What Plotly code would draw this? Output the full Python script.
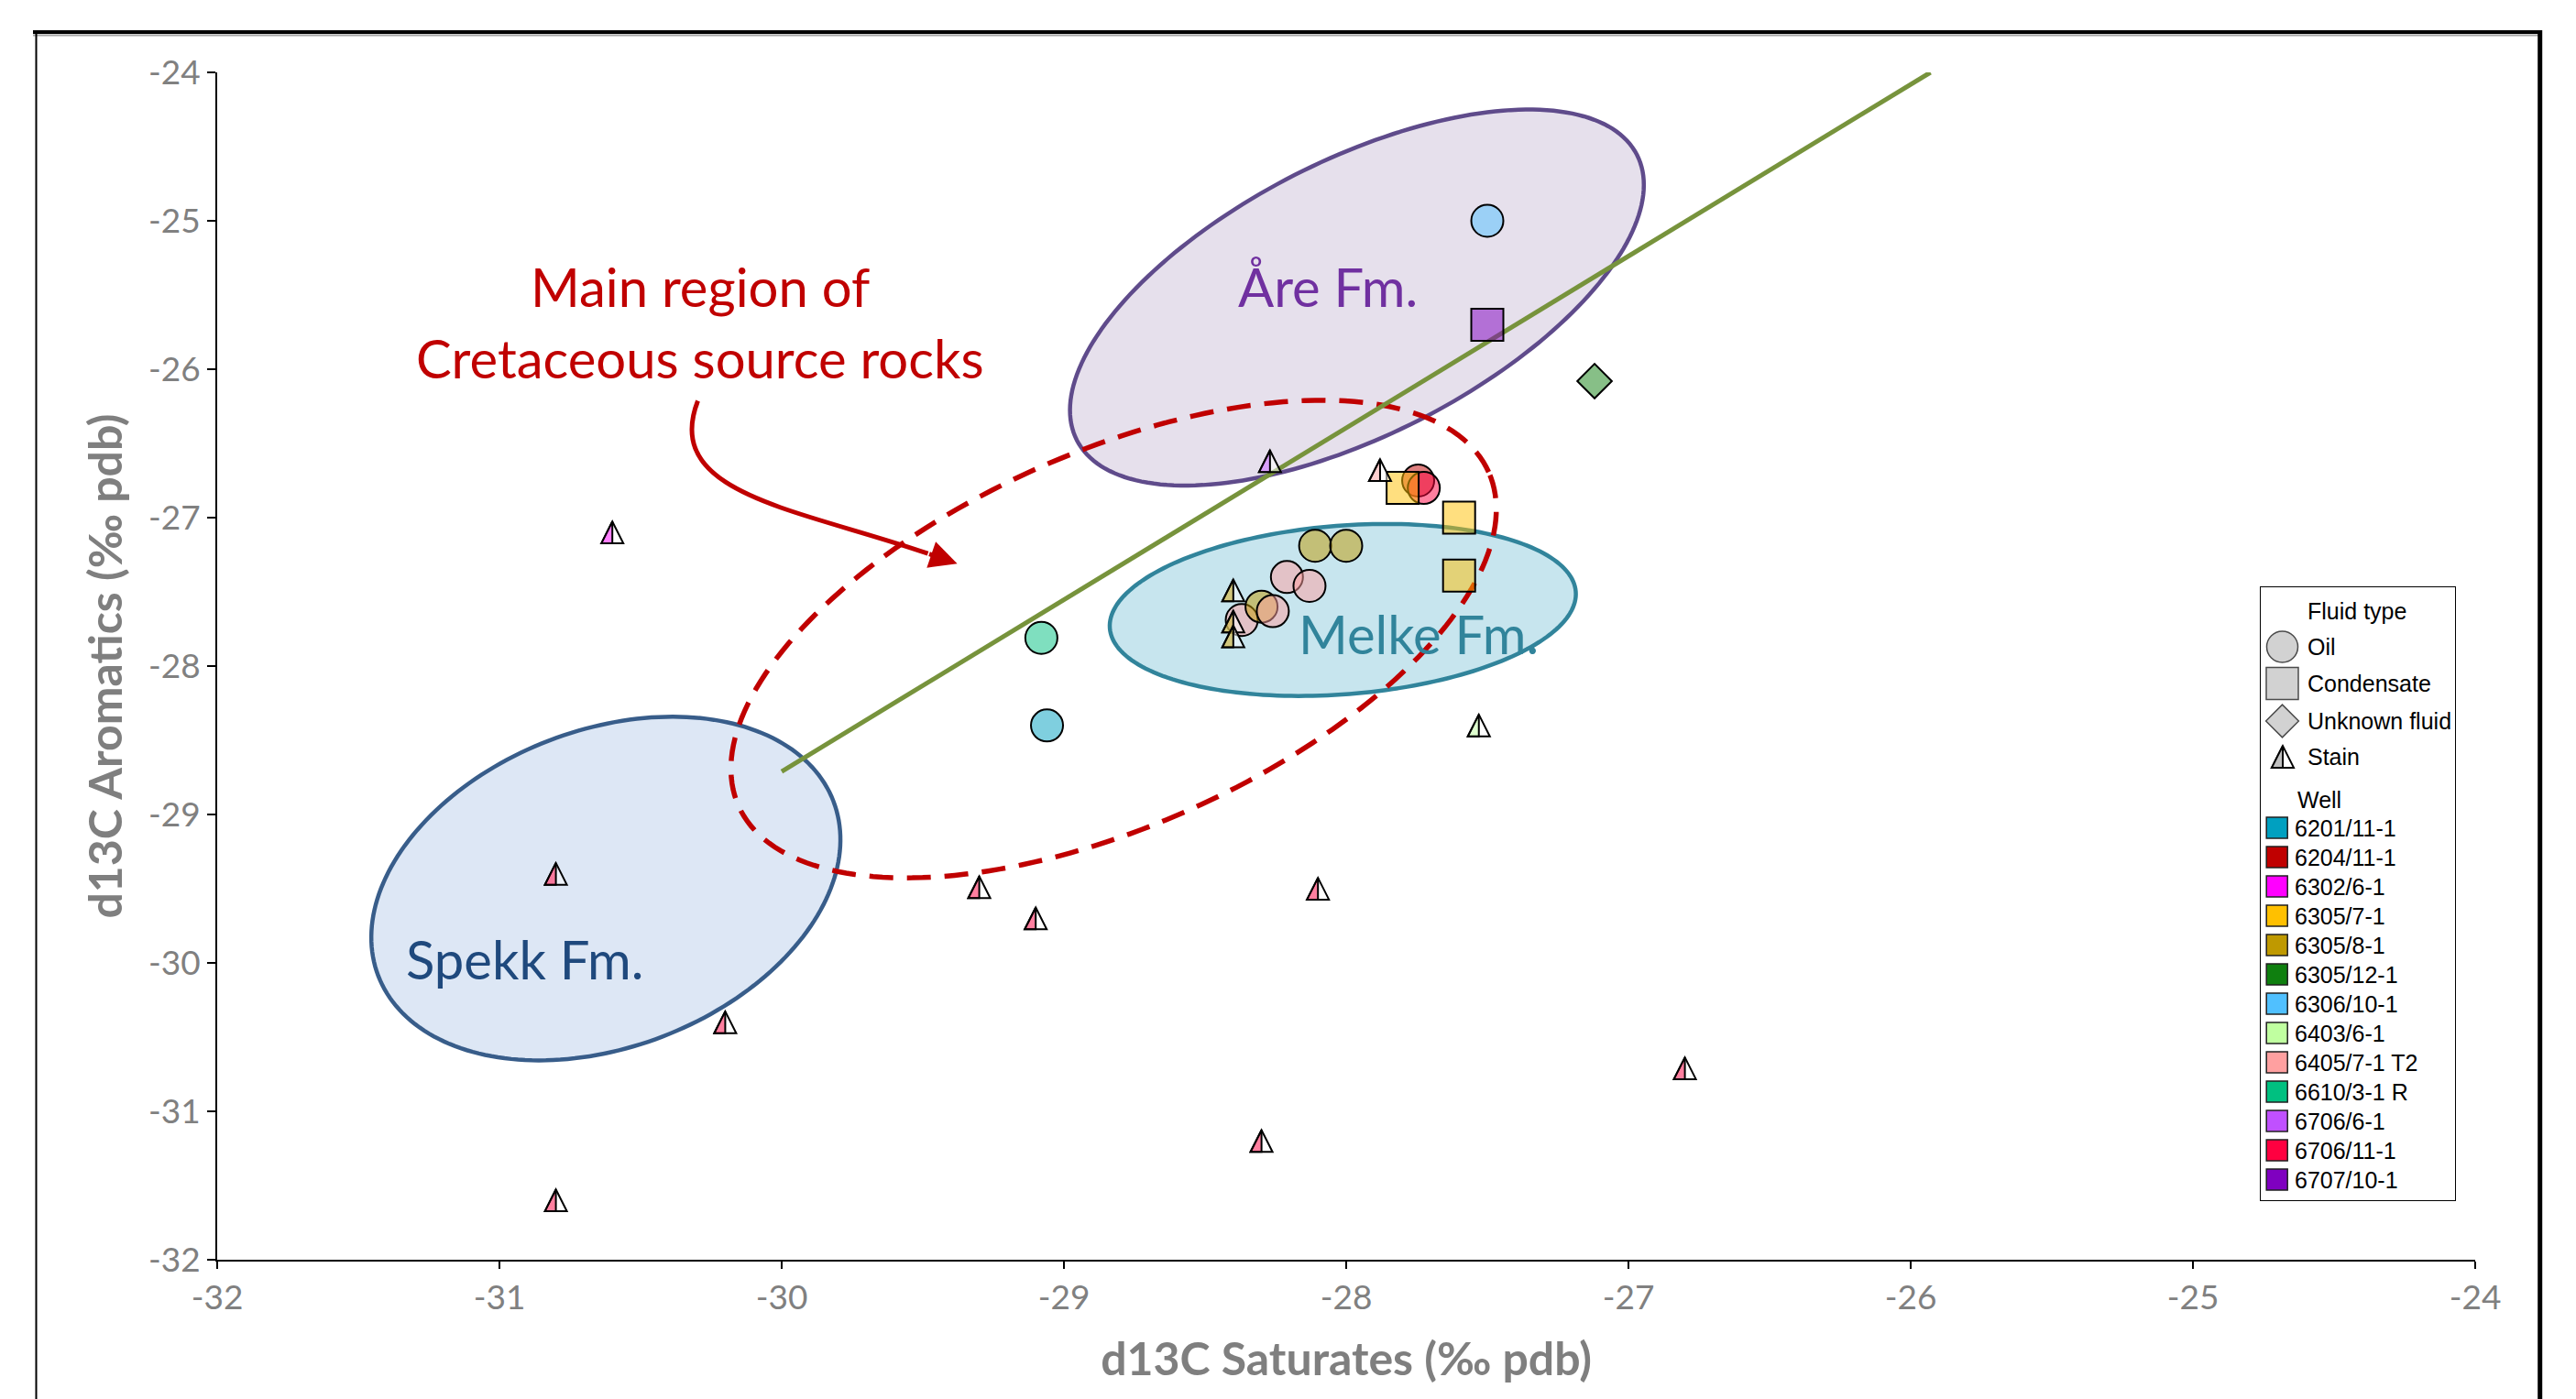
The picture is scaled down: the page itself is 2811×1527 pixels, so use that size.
import numpy as np
import plotly.graph_objects as go

# ---------------- data ----------------
wells = ["6201/11-1", "6204/11-1", "6302/6-1", "6305/7-1", "6305/8-1", "6305/12-1",
         "6306/10-1", "6403/6-1", "6405/7-1 T2", "6610/3-1 R", "6706/6-1", "6706/11-1",
         "6707/10-1"]
well_colors = ["#00A0C0", "#C00000", "#FF00FF", "#FFC000", "#BF9900", "#0F7F0F",
               "#50C0FF", "#C0FFA0", "#FFA0A0", "#00C080", "#C050FF", "#FF0040",
               "#7F00C0"]

oil_x = [-29.06, -29.08, -27.50, -28.11, -28.00, -28.21, -28.13, -28.37, -28.30, -28.26, -27.745, -27.725]
oil_y = [-28.40, -27.81, -25.00, -27.19, -27.19, -27.40, -27.46, -27.69, -27.60, -27.63, -26.75, -26.80]
oil_well = ["6201/11-1", "6610/3-1 R", "6306/10-1", "6305/8-1", "6305/8-1", "6405/7-1 T2",
            "6405/7-1 T2", "6405/7-1 T2", "6305/8-1", "6405/7-1 T2", "6204/11-1", "6706/11-1"]

cond_x = [-27.80, -27.60, -27.60, -27.50]
cond_y = [-26.80, -27.00, -27.39, -25.70]
cond_well = ["6305/7-1", "6305/7-1", "6305/7-1", "6707/10-1"]

unk_x = [-27.12]
unk_y = [-26.08]
unk_well = ["6305/12-1"]

stain_x = [-30.60, -30.80, -29.30, -29.10, -30.20, -30.80, -28.30, -28.10, -26.80,
           -27.53, -28.27, -27.88, -28.40, -28.40, -28.40]
stain_y = [-27.10, -29.40, -29.49, -29.70, -30.40, -31.60, -31.20, -29.50, -30.71,
           -28.40, -26.62, -26.68, -27.49, -27.70, -27.80]
stain_well = ["6302/6-1", "6706/11-1", "6706/11-1", "6706/11-1", "6706/11-1", "6706/11-1",
              "6706/11-1", "6706/11-1", "6706/11-1", "6403/6-1", "6706/6-1", "6405/7-1 T2",
              "6305/8-1", "6305/8-1", "6305/8-1"]

trend_x = [-30.00, -25.93]
trend_y = [-28.71, -24.00]

fluid_types = ["Oil", "Condensate", "Unknown fluid", "Stain"]

x_ticks = [-32, -31, -30, -29, -28, -27, -26, -25, -24]
y_ticks = [-32, -31, -30, -29, -28, -27, -26, -25, -24]

# formation regions: centre (data), semi axes (px), rotation (deg)
regions = {
    "Are":   dict(cx=-27.962, cy=-25.517, a=343, b=150, rot=27, line="#5F4B8B", fill="#E6E0EC", dash="solid", w=4.5),
    "Spekk": dict(cx=-30.623, cy=-29.499, a=266, b=173, rot=21, line="#385D8A", fill="#DDE7F5", dash="solid", w=4.5),
    "Melke": dict(cx=-28.012, cy=-27.622, a=255, b=92, rot=4.5, line="#31849B", fill="#C7E5EE", dash="solid", w=4.5),
    "Cret":  dict(cx=-28.824, cy=-27.818, a=448, b=204, rot=24, line="#C00000", fill="rgba(0,0,0,0)", dash="26px,15px", w=5.5),
}

# ---------------- geometry of the page ----------------
W, H = 2811, 1527
ML, MR, MT, MB = 237, 110, 79, 152
PW, PH = W - ML - MR, H - MT - MB


def paper_x(px):
    return (px - ML) / PW


def paper_y(py):
    return 1 - (py - MT) / PH


def rgba(hexc, a):
    h = hexc.lstrip("#")
    return f"rgba({int(h[0:2],16)},{int(h[2:4],16)},{int(h[4:6],16)},{a})"


cmap = dict(zip(wells, well_colors))
ALPHA = 0.5

fig = go.Figure()

# trend line
fig.add_trace(go.Scatter(x=trend_x, y=trend_y, mode="lines",
                         line=dict(color="#77933C", width=5), hoverinfo="skip"))

# oil
fig.add_trace(go.Scatter(x=oil_x, y=oil_y, mode="markers", name="Oil",
                         marker=dict(symbol="circle", size=35,
                                     color=[rgba(cmap[w], ALPHA) for w in oil_well],
                                     line=dict(color="black", width=2))))
# condensate
fig.add_trace(go.Scatter(x=cond_x, y=cond_y, mode="markers", name="Condensate",
                         marker=dict(symbol="square", size=35,
                                     color=[rgba(cmap[w], ALPHA) for w in cond_well],
                                     line=dict(color="black", width=2))))
# unknown
fig.add_trace(go.Scatter(x=unk_x, y=unk_y, mode="markers", name="Unknown fluid",
                         marker=dict(symbol="diamond", size=29,
                                     color=[rgba(cmap[w], ALPHA) for w in unk_well],
                                     line=dict(color="black", width=2))))

shapes = []


def ellipse_path(a, b, deg, n=200):
    t = np.linspace(0, 2 * np.pi, n, endpoint=False)
    th = np.radians(deg)
    xs = a * np.cos(t) * np.cos(th) - b * np.sin(t) * np.sin(th)
    ys = a * np.cos(t) * np.sin(th) + b * np.sin(t) * np.cos(th)
    return "M" + " L".join(f"{x:.2f},{y:.2f}" for x, y in zip(xs, ys)) + " Z"


for key, r in regions.items():
    shapes.append(dict(type="path", xref="x", yref="y", xsizemode="pixel", ysizemode="pixel",
                       xanchor=r["cx"], yanchor=r["cy"], path=ellipse_path(r["a"], r["b"], r["rot"]),
                       fillcolor=r["fill"], line=dict(color=r["line"], width=r["w"], dash=r["dash"]),
                       layer="below"))

TW, TH = 12, 11.9
tri_full = f"M{-TW},{-TH} L0,{TH} L{TW},{-TH} Z"
tri_left = f"M{-TW},{-TH} L0,{TH} L0,{-TH} Z"


def stain_shapes(x, y, color, xref="x", yref="y"):
    return [
        dict(type="path", xref=xref, yref=yref, xsizemode="pixel", ysizemode="pixel",
             xanchor=x, yanchor=y, path=tri_full, fillcolor="rgba(255,255,255,0.5)",
             line=dict(color="black", width=2), layer="above"),
        dict(type="path", xref=xref, yref=yref, xsizemode="pixel", ysizemode="pixel",
             xanchor=x, yanchor=y, path=tri_left, fillcolor=color,
             line=dict(color="black", width=2), layer="above"),
    ]


for x, y, w in zip(stain_x, stain_y, stain_well):
    shapes += stain_shapes(x, y, rgba(cmap[w], ALPHA))

# curved arrow (annotation)
arrow_p0 = (-30.297, -26.213)
arrow_p1 = (-30.426, -26.844)
arrow_p2 = (-29.943, -26.939)
arrow_p3 = (-29.482, -27.242)
arrow_tip = (-29.378, -27.31)
shapes.append(dict(type="path", xref="x", yref="y",
                   path=f"M{arrow_p0[0]},{arrow_p0[1]} C{arrow_p1[0]},{arrow_p1[1]} "
                        f"{arrow_p2[0]},{arrow_p2[1]} {arrow_p3[0]},{arrow_p3[1]}",
                   line=dict(color="#C00000", width=5), layer="above"))

# outer frame
shapes.append(dict(type="line", xref="paper", yref="paper", x0=paper_x(36), x1=paper_x(2774),
                   y0=paper_y(35), y1=paper_y(35), line=dict(color="black", width=4)))
shapes.append(dict(type="line", xref="paper", yref="paper", x0=paper_x(36), x1=paper_x(2774),
                   y0=paper_y(38.5), y1=paper_y(38.5), line=dict(color="#A6A6A6", width=2)))
shapes.append(dict(type="line", xref="paper", yref="paper", x0=paper_x(39.5), x1=paper_x(39.5),
                   y0=paper_y(33), y1=paper_y(1530), line=dict(color="black", width=2)))
shapes.append(dict(type="line", xref="paper", yref="paper", x0=paper_x(2771.7), x1=paper_x(2771.7),
                   y0=paper_y(33), y1=paper_y(1530), line=dict(color="black", width=5)))

# ---------------- legend (inset axes in page pixels) ----------------
LX0, LX1, LY0, LY1 = 2466, 2680, 640, 1311
shapes.append(dict(type="rect", xref="x2", yref="y2", x0=LX0, x1=LX1, y0=LY0, y1=LY1,
                   line=dict(color="black", width=2), fillcolor="white", layer="below"))

fluid_rows_y = [706, 746, 787, 826]
sym_x = 2490.5
fig.add_trace(go.Scatter(x=[sym_x] * 3, y=fluid_rows_y[:3], xaxis="x2", yaxis="y2", mode="markers",
                         marker=dict(symbol=["circle", "square", "diamond"], size=[34, 35, 27.5],
                                     color="#C0C0C0", line=dict(color="black", width=1.5)),
                         hoverinfo="skip"))
shapes += stain_shapes(2491, fluid_rows_y[3], "#C0C0C0", xref="x2", yref="y2")

well_row0, well_step = 903.5, 32.0
well_rows_y = [well_row0 + i * well_step for i in range(len(wells))]
fig.add_trace(go.Scatter(x=[2484.7] * len(wells), y=well_rows_y, xaxis="x2", yaxis="y2",
                         mode="markers",
                         marker=dict(symbol="square", size=23, color=well_colors,
                                     line=dict(color="#202020", width=1.5)),
                         hoverinfo="skip"))

annotations = []
leg_font = dict(family="Liberation Sans, Arial, sans-serif", size=25, color="black")
annotations.append(dict(x=2516, y=667, xref="x2", yref="y2", text="Fluid type", showarrow=False,
                        xanchor="left", yanchor="middle", font=leg_font))
for name, yy in zip(fluid_types, fluid_rows_y):
    annotations.append(dict(x=2516, y=yy, xref="x2", yref="y2", text=name, showarrow=False,
                            xanchor="left", yanchor="middle", font=leg_font))
annotations.append(dict(x=2505, y=873, xref="x2", yref="y2", text="Well", showarrow=False,
                        xanchor="left", yanchor="middle", font=leg_font))
for name, yy in zip(wells, well_rows_y):
    annotations.append(dict(x=2502, y=yy, xref="x2", yref="y2", text=name, showarrow=False,
                            xanchor="left", yanchor="middle", font=leg_font))

# ---------------- text on chart ----------------
cal = "Lato, Open Sans, sans-serif"
annotations += [
    dict(x=-30.29, y=-25.44, text="Main region of", showarrow=False,
         font=dict(family=cal, size=58, color="#C00000"), xanchor="center", yanchor="middle"),
    dict(x=-30.29, y=-25.92, text="Cretaceous source rocks", showarrow=False,
         font=dict(family=cal, size=58, color="#C00000"), xanchor="center", yanchor="middle"),
    dict(x=-28.066, y=-25.44, text="Åre Fm.", showarrow=False,
         font=dict(family=cal, size=58, color="#7030A0"), xanchor="center", yanchor="middle"),
    dict(x=-27.745, y=-27.78, text="Melke Fm.", showarrow=False,
         font=dict(family=cal, size=58, color="#31849B"), xanchor="center", yanchor="middle"),
    dict(x=-30.91, y=-29.97, text="Spekk Fm.", showarrow=False,
         font=dict(family=cal, size=58, color="#1F497D"), xanchor="center", yanchor="middle"),
    dict(x=arrow_tip[0], y=arrow_tip[1], ax=arrow_p3[0], ay=arrow_p3[1], axref="x", ayref="y",
         xref="x", yref="y", text="", showarrow=True, arrowhead=2, arrowsize=1.2,
         arrowwidth=5, arrowcolor="#C00000", standoff=0, startstandoff=0),
]

tickfont = dict(family=cal, size=37, color="#808080")
titlefont = dict(family=cal, size=50, color="#7F7F7F", weight="bold")

fig.update_layout(
    template="none",
    width=W, height=H,
    margin=dict(l=ML, r=MR, t=MT, b=MB, pad=0),
    paper_bgcolor="white", plot_bgcolor="rgba(0,0,0,0)",
    showlegend=False,
    xaxis=dict(range=[-32, -24], tickvals=x_ticks, ticktext=[str(v) for v in x_ticks],
               showgrid=False, zeroline=False, showline=True, linecolor="black", linewidth=2,
               ticks="outside", ticklen=8, tickwidth=1.5, tickcolor="black", tickfont=tickfont,
               title=dict(text="d13C Saturates (‰ pdb)", font=titlefont, standoff=30),
               automargin=False),
    yaxis=dict(range=[-32, -24], tickvals=y_ticks, ticktext=[str(v) for v in y_ticks],
               showgrid=False, zeroline=False, showline=True, linecolor="black", linewidth=2,
               ticks="outside", ticklen=9, tickwidth=1.5, tickcolor="black", tickfont=tickfont,
               title=dict(text="d13C Aromatics (‰ pdb)", font=titlefont, standoff=12),
               automargin=False),
    xaxis2=dict(domain=[paper_x(LX0), paper_x(LX1)], range=[LX0, LX1], visible=False,
                anchor="y2", fixedrange=True),
    yaxis2=dict(domain=[paper_y(LY1), paper_y(LY0)], range=[LY1, LY0], visible=False,
                anchor="x2", fixedrange=True),
    shapes=shapes,
    annotations=annotations,
)

fig.write_html("out.html")
